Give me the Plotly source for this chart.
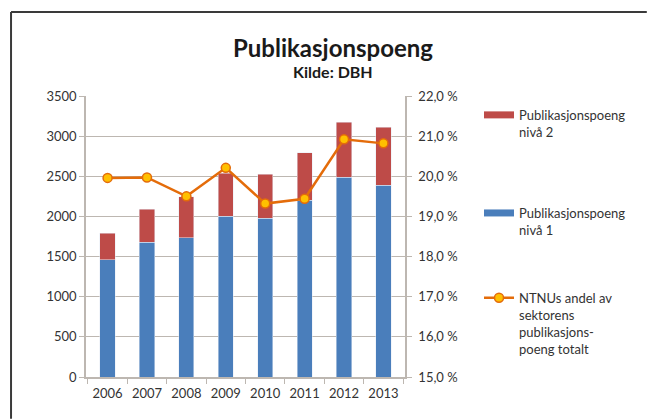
import plotly.graph_objects as go

# data
years = ['2006', '2007', '2008', '2009', '2010', '2011', '2012', '2013']
poeng_niva1 = [1462, 1678, 1735, 2001, 1976, 2204, 2485, 2390]
poeng_niva2 = [327, 414, 510, 534, 551, 588, 688, 721]
ntnu_andel = [19.96, 19.97, 19.50, 20.21, 19.32, 19.44, 20.92, 20.82]

BLUE = '#4A7EBB'
RED = '#BE4B48'
ORANGE = '#E46C0A'
GOLD = '#FFC000'
GRID = '#BDB7B1'
TEXT = '#333333'
FONT = 'Lato, Open Sans, sans-serif'

fig = go.Figure()

# stolper
fig.add_trace(go.Bar(x=years, y=poeng_niva1, marker_color=BLUE,
                     name='Publikasjonspoeng<br>nivå 1', showlegend=False))
fig.add_trace(go.Bar(x=years, y=poeng_niva2, marker_color=RED,
                     name='Publikasjonspoeng<br>nivå 2', showlegend=False))

# linje på høyre akse
fig.add_trace(go.Scatter(
    x=years, y=ntnu_andel, yaxis='y2', mode='lines+markers',
    name='NTNUs andel av<br>sektorens<br>publikasjons-<br>poeng totalt',
    line=dict(color=ORANGE, width=2.5),
    marker=dict(size=9, color=GOLD, line=dict(color=ORANGE, width=1.5)),
    legend='legend3',
))

# legendesymboler som smale stolper
fig.add_trace(go.Scatter(x=[None], y=[None], mode='lines',
                         line=dict(color=RED, width=7),
                         name='Publikasjonspoeng<br>nivå 2', legend='legend'))
fig.add_trace(go.Scatter(x=[None], y=[None], mode='lines',
                         line=dict(color=BLUE, width=7),
                         name='Publikasjonspoeng<br>nivå 1', legend='legend2'))

leg = dict(xref='paper', yref='paper', xanchor='left', yanchor='top',
           x=1.232, bgcolor='rgba(0,0,0,0)', valign='top',
           font=dict(family=FONT, size=13, color=TEXT))

axis_style = dict(showline=True, linecolor=GRID, linewidth=1.5, ticks='outside',
                  ticklen=5, tickcolor=GRID, automargin=False,
                  tickfont=dict(family=FONT, size=13, color=TEXT))

fig.update_layout(
    width=647, height=419,
    margin=dict(l=86, r=242, t=96, b=42),
    paper_bgcolor='white', plot_bgcolor='white',
    font=dict(family=FONT, size=13, color=TEXT),
    separators=', ',
    barmode='stack', bargap=0.615,
    xaxis=dict(axis_style, type='category', tickson='boundaries', tickangle=0,
               showgrid=False, ticklabelstandoff=4),
    yaxis=dict(axis_style, range=[0, 3500], dtick=500, showgrid=True,
               gridcolor=GRID, gridwidth=1, zeroline=False),
    yaxis2=dict(axis_style, range=[15, 22], dtick=1, tickformat='.1f',
                ticksuffix=' %', overlaying='y', side='right', showgrid=False,
                zeroline=False, ticklabelstandoff=4),
    legend=dict(leg, y=0.986),
    legend2=dict(leg, y=0.637),
    legend3=dict(leg, y=0.335),
    annotations=[
        dict(text='<b>Publikasjonspoeng</b>', xref='paper', yref='paper',
             x=0.774, y=1.172, xanchor='center', yanchor='middle',
             showarrow=False, font=dict(family=FONT, size=24, color='#1a1a1a')),
        dict(text='<b>Kilde: DBH</b>', xref='paper', yref='paper',
             x=0.774, y=1.088, xanchor='center', yanchor='middle',
             showarrow=False, font=dict(family=FONT, size=16, color='#1a1a1a')),
    ],
    # ramme rundt diagrammet (venstre og topp, resten er utenfor bildet)
    shapes=[
        dict(type='line', xref='paper', yref='paper', x0=-0.235, x1=-0.235,
             y0=-0.149, y1=1.299, line=dict(color='#3a3a3a', width=2)),
        dict(type='line', xref='paper', yref='paper', x0=-0.235, x1=1.758,
             y0=1.299, y1=1.299, line=dict(color='#3a3a3a', width=2)),
    ],
)

# sidemarg og rullefelt bort, så figuren fyller vinduet
fig.write_html(
    'out.html', config={'displayModeBar': False},
    post_script=("document.body.style.margin='0';"
                 "document.body.style.overflow='hidden';"
                 "document.documentElement.style.overflow='hidden';"),
)
